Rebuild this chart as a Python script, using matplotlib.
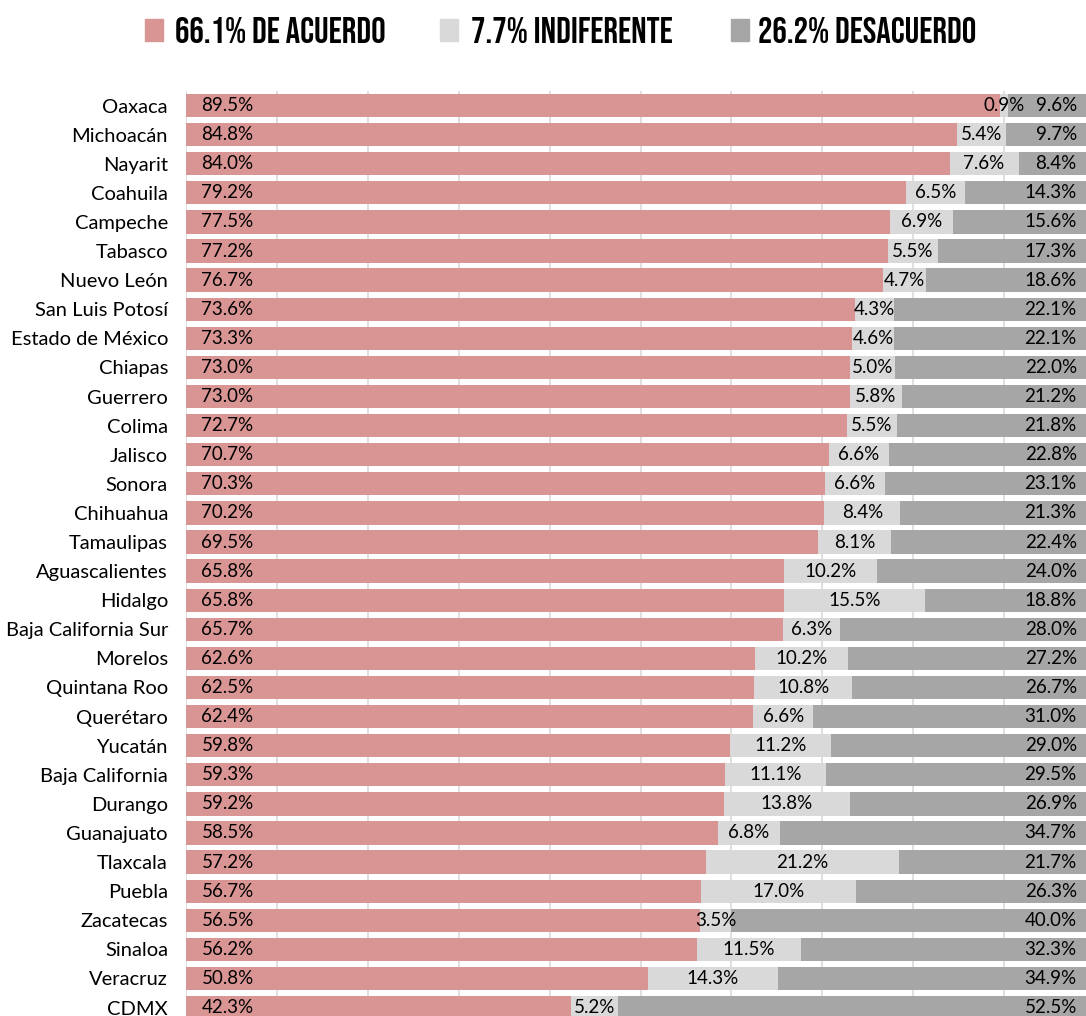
import matplotlib
matplotlib.use('Agg')
import matplotlib.pyplot as plt
from matplotlib import font_manager
from matplotlib.patches import Rectangle

# Data
estados = ['Oaxaca', 'Michoacán', 'Nayarit', 'Coahuila', 'Campeche', 'Tabasco',
           'Nuevo León', 'San Luis Potosí', 'Estado de México', 'Chiapas', 'Guerrero',
           'Colima', 'Jalisco', 'Sonora', 'Chihuahua', 'Tamaulipas', 'Aguascalientes',
           'Hidalgo', 'Baja California Sur', 'Morelos', 'Quintana Roo', 'Querétaro',
           'Yucatán', 'Baja California', 'Durango', 'Guanajuato', 'Tlaxcala', 'Puebla',
           'Zacatecas', 'Sinaloa', 'Veracruz', 'CDMX']
acuerdo = [89.5, 84.8, 84.0, 79.2, 77.5, 77.2, 76.7, 73.6, 73.3, 73.0, 73.0, 72.7,
           70.7, 70.3, 70.2, 69.5, 65.8, 65.8, 65.7, 62.6, 62.5, 62.4, 59.8, 59.3,
           59.2, 58.5, 57.2, 56.7, 56.5, 56.2, 50.8, 42.3]
indiferente = [0.9, 5.4, 7.6, 6.5, 6.9, 5.5, 4.7, 4.3, 4.6, 5.0, 5.8, 5.5, 6.6, 6.6,
               8.4, 8.1, 10.2, 15.5, 6.3, 10.2, 10.8, 6.6, 11.2, 11.1, 13.8, 6.8,
               21.2, 17.0, 3.5, 11.5, 14.3, 5.2]
desacuerdo = [9.6, 9.7, 8.4, 14.3, 15.6, 17.3, 18.6, 22.1, 22.1, 22.0, 21.2, 21.8,
              22.8, 23.1, 21.3, 22.4, 24.0, 18.8, 28.0, 27.2, 26.7, 31.0, 29.0, 29.5,
              26.9, 34.7, 21.7, 26.3, 40.0, 32.3, 34.9, 52.5]
leyenda = ['66.1% DE ACUERDO', '7.7% INDIFERENTE', '26.2% DESACUERDO']

ROSA = '#D99594'
GRIS_CLARO = '#D9D9D9'
GRIS = '#A6A6A6'
FUENTE = ['Lato', 'DejaVu Sans']

# pick a narrow bold face for the legend if one is around
nombres = {f.name for f in font_manager.fontManager.ttflist}
estrecha = None
for cand in ['Bebas Neue', 'Oswald', 'Roboto Condensed', 'Liberation Sans Narrow',
             'Open Sans Condensed', 'Noto Sans Condensed', 'Arial Narrow']:
    if cand in nombres:
        estrecha = cand
        break
hay_dejavu_cond = any(f.name == 'DejaVu Sans' and f.stretch == 'condensed'
                      for f in font_manager.fontManager.ttflist)

fig = plt.figure(figsize=(10.86, 10.16), dpi=100)
# axis runs past the right edge of the figure (the original is cropped)
ax = fig.add_axes([186 / 1086, 0, 909 / 1086, 925 / 1016])

y = list(range(len(estados)))
left2 = [a for a in acuerdo]
left3 = [a + b for a, b in zip(acuerdo, indiferente)]

ax.barh(y, acuerdo, height=0.8, color=ROSA, zorder=2)
ax.barh(y, indiferente, left=left2, height=0.8, color=GRIS_CLARO, zorder=2)
ax.barh(y, desacuerdo, left=left3, height=0.8, color=GRIS, zorder=2)

for i in y:
    ax.text(1.7, i, f'{acuerdo[i]:.1f}%', va='center', ha='left', fontsize=13.5,
            family=FUENTE, zorder=3)
    ax.text(left2[i] + indiferente[i] / 2, i, f'{indiferente[i]:.1f}%', va='center',
            ha='center', fontsize=13.5, family=FUENTE, zorder=3)
    ax.text(98.0, i, f'{desacuerdo[i]:.1f}%', va='center', ha='right', fontsize=13.5,
            family=FUENTE, zorder=3)

ax.set_xlim(0, 100)
ax.set_ylim(31.29, -0.5)
ax.set_xticks(range(0, 101, 10))
ax.xaxis.grid(True, color=GRIS_CLARO, linewidth=1.2, zorder=0)
ax.set_axisbelow(True)
ax.tick_params(axis='x', length=0, labelbottom=False)
ax.tick_params(axis='y', length=0, pad=13)
ax.set_yticks(y)
ax.set_yticklabels(estados, fontsize=14.5, family=FUENTE)
for s in ax.spines.values():
    s.set_visible(False)

# legend at the top
colores = [ROSA, GRIS_CLARO, GRIS]
cuadros_x = [145, 440, 731]
textos_x = [175, 471, 758]
anchos = [215, 207, 225]
props = dict(fontweight='bold')
if estrecha:
    props['family'] = [estrecha, 'DejaVu Sans']
else:
    props['family'] = ['DejaVu Sans']
    if hay_dejavu_cond:
        props['fontstretch'] = 'condensed'

textos = []
for etiqueta, c, cx, tx in zip(leyenda, colores, cuadros_x, textos_x):
    fig.patches.append(Rectangle((cx / 1086, 1 - 41 / 1016), 18 / 1086, 22 / 1016,
                                 transform=fig.transFigure, color=c))
    textos.append(fig.text(tx / 1086, 1 - 30 / 1016, etiqueta, ha='left', va='center',
                           fontsize=24, **props))

# shrink legend text so it fits the space it has in the original
fig.canvas.draw()
r = fig.canvas.get_renderer()
escala = min(a / t.get_window_extent(r).width for a, t in zip(anchos, textos))
for t in textos:
    t.set_fontsize(min(26, 24 * escala))

fig.savefig('out.png', dpi=100)
